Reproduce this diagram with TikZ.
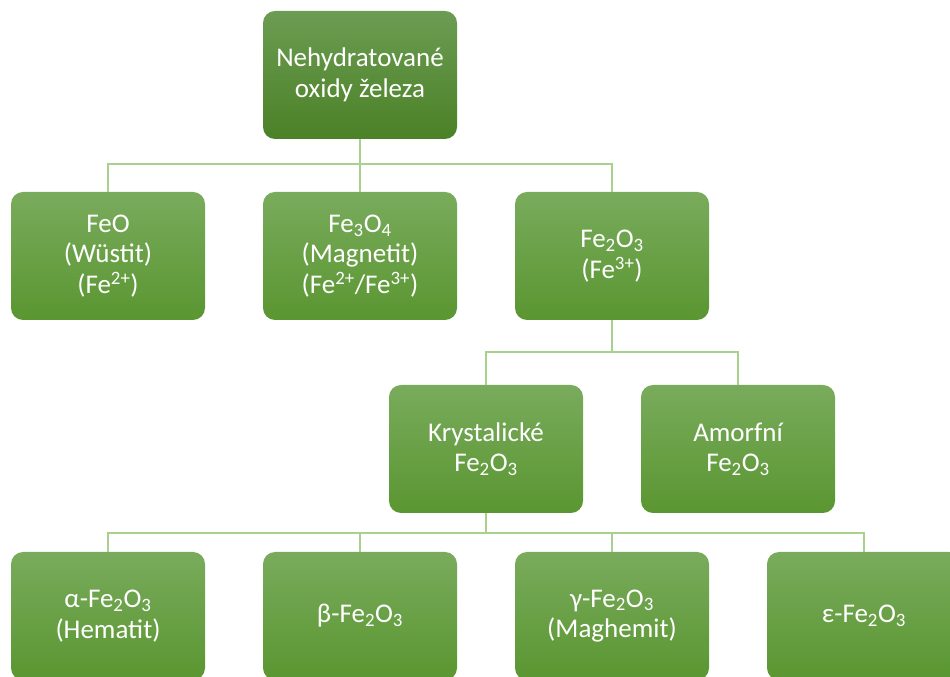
\documentclass[tikz,border=0pt]{standalone}
\usepackage{fontspec}
\setmainfont{Carlito}
\usepackage{tikz}

\definecolor{boxtop}{HTML}{79AB5C}
\definecolor{boxbot}{HTML}{5A9631}
\definecolor{roottop}{HTML}{6C9C52}
\definecolor{rootbot}{HTML}{4B8127}
\definecolor{linkcol}{HTML}{A9D18E}

\begin{document}
\begin{tikzpicture}[x=1pt,y=1pt]
				\tikzstyle{every node} = [rectangle,rounded corners=12pt,minimum width=194pt,minimum height=128pt,text=white,align=center,font=\fontsize{27}{30.5}\selectfont,top color=boxtop,bottom color=boxbot];
				\tikzstyle{rootbox} = [top color=roottop,bottom color=rootbot];
				\tikzstyle{link} = [draw=linkcol,line width=1.8pt];
				\useasboundingbox (0,0) rectangle (950,677);
				\clip (0,0) rectangle (950,677);
				\node[rootbox] (root) at (360, 602) {Nehydratované\\oxidy železa};
				\node (feo) at (108, 421) {FeO\\(Wüstit)\\(Fe\textsuperscript{2+})};
				\node (magn) at (360, 421) {Fe\textsubscript{3}O\textsubscript{4}\\(Magnetit)\\(Fe\textsuperscript{2+}/Fe\textsuperscript{3+})};
				\node (fe) at (612, 421) {Fe\textsubscript{2}O\textsubscript{3}\\(Fe\textsuperscript{3+})};
				\node (kryst) at (486, 228) {Krystalické\\Fe\textsubscript{2}O\textsubscript{3}};
				\node (amorf) at (738, 228) {Amorfní\\Fe\textsubscript{2}O\textsubscript{3}};
				\node (alfa) at (108, 61) {α-Fe\textsubscript{2}O\textsubscript{3}\\(Hematit)};
				\node (beta) at (360, 61) {β-Fe\textsubscript{2}O\textsubscript{3}};
				\node (gama) at (612, 61) {γ-Fe\textsubscript{2}O\textsubscript{3}\\(Maghemit)};
				\node (eps) at (864, 61) {ε-Fe\textsubscript{2}O\textsubscript{3}};
				\draw[link] (root.south) -- ++(0,-25) -| (feo.north);
				\draw[link] (root.south) -- (magn.north);
				\draw[link] (root.south) -- ++(0,-25) -| (fe.north);
				\draw[link] (fe.south) -- ++(0,-32) -| (kryst.north);
				\draw[link] (fe.south) -- ++(0,-32) -| (amorf.north);
				\draw[link] (kryst.south) -- ++(0,-20) -| (alfa.north);
				\draw[link] (kryst.south) -- ++(0,-20) -| (beta.north);
				\draw[link] (kryst.south) -- ++(0,-20) -| (gama.north);
				\draw[link] (kryst.south) -- ++(0,-20) -| (eps.north);
			\end{tikzpicture}
\end{document}
